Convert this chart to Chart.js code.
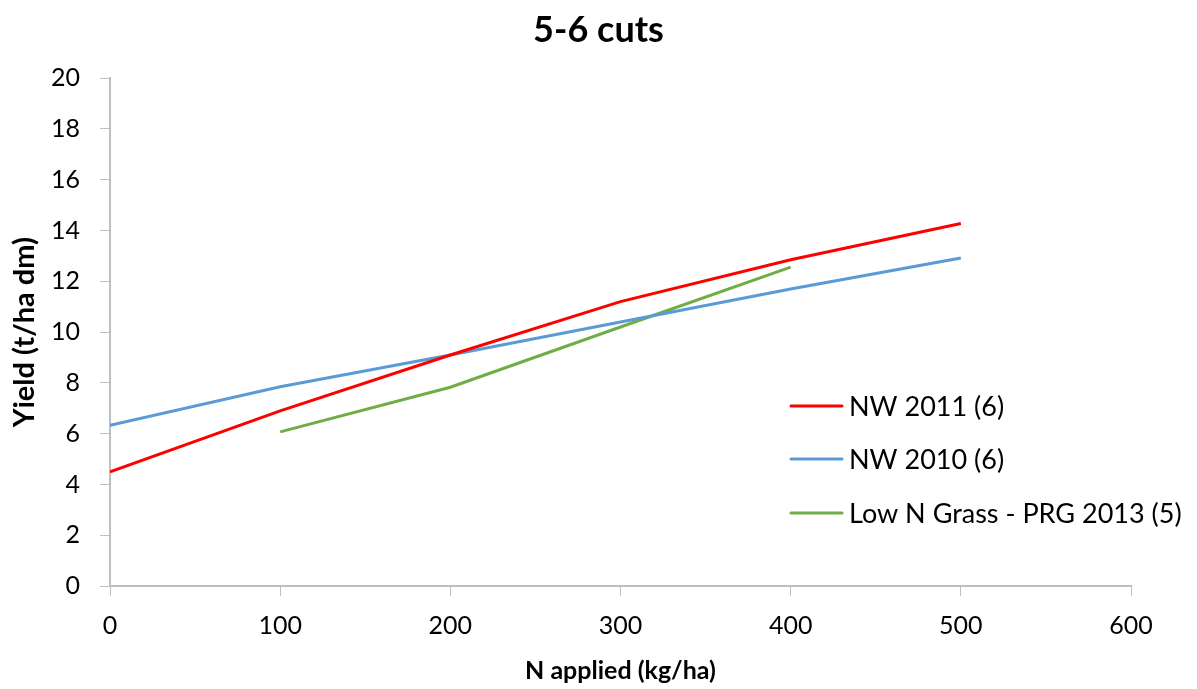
<!DOCTYPE html>
<html lang="en">
<head>
    <meta charset="utf-8" />
    <title>5-6 cuts</title>
    <script src="https://cdn.jsdelivr.net/npm/chart.js"></script>
    <style>
        html, body { margin: 0; padding: 0; background: #fff; }
        #wrap { width: 1197px; height: 689px; }
    </style>
</head>
<body>
    <div id="wrap"><canvas id="chart" width="1197" height="689"></canvas></div>

    <script>
        // values
        const nApplied = [0, 100, 200, 300, 400, 500];
        const nw2011 = [4.5, 6.9, 9.1, 11.2, 12.85, 14.28];
        const nw2010 = [6.33, 7.85, 9.1, 10.4, 11.7, 12.92];
        const lowNGrass = [null, 6.07, 7.83, 10.2, 12.56, null];

        const seriesNames = ['NW 2011 (6)', 'NW 2010 (6)', 'Low N Grass - PRG 2013 (5)'];
        const seriesColors = ['#ff0000', '#5b9bd5', '#70ad47'];

        const FONT = 'Lato, "Open Sans", "Liberation Sans", sans-serif';

        function toPoints(values) {
            return nApplied.map(function (x, i) { return { x: x, y: values[i] }; });
        }

        // legend drawn on top of the plot, like the original
        const overlayLegend = {
            id: 'overlayLegend',
            afterDraw: function (chart) {
                const ctx = chart.ctx;
                const rows = [406, 459, 513];
                ctx.save();
                ctx.font = '27px ' + FONT;
                ctx.textBaseline = 'middle';
                ctx.textAlign = 'left';
                chart.data.datasets.forEach(function (ds, i) {
                    ctx.strokeStyle = ds.borderColor;
                    ctx.lineWidth = 3;
                    ctx.lineCap = 'round';
                    ctx.beginPath();
                    ctx.moveTo(791, rows[i]);
                    ctx.lineTo(842, rows[i]);
                    ctx.stroke();
                    ctx.fillStyle = '#000';
                    ctx.fillText(ds.label, 849, rows[i] + 1);
                });
                ctx.restore();
            }
        };

        const datasets = [nw2011, nw2010, lowNGrass].map(function (vals, i) {
            return {
                label: seriesNames[i],
                data: toPoints(vals),
                borderColor: seriesColors[i],
                backgroundColor: seriesColors[i],
                borderWidth: 3,
                pointRadius: 0,
                tension: 0,
                spanGaps: false
            };
        });

        new Chart(document.getElementById('chart'), {
            type: 'line',
            data: { datasets: datasets },
            options: {
                responsive: false,
                animation: false,
                layout: { padding: 0 },
                plugins: {
                    legend: { display: false },
                    tooltip: { enabled: false },
                    title: {
                        display: true,
                        text: '5-6 cuts',
                        color: '#000',
                        font: { family: FONT, size: 36, weight: 'bold', lineHeight: 1.2 },
                        padding: { top: 9, bottom: 26 }
                    }
                },
                scales: {
                    x: {
                        type: 'linear',
                        min: 0,
                        max: 600,
                        ticks: {
                            stepSize: 100,
                            color: '#000',
                            padding: 15,
                            font: { family: FONT, size: 25 }
                        },
                        grid: {
                            drawOnChartArea: false,
                            drawTicks: true,
                            tickLength: 10,
                            color: '#bfbfbf'
                        },
                        border: { color: '#bfbfbf', width: 2 },
                        title: {
                            display: true,
                            text: 'N applied (kg/ha)',
                            color: '#000',
                            font: { family: FONT, size: 25, weight: 'bold' },
                            padding: { top: 0, bottom: 3 }
                        },
                        afterFit: function (scale) {
                            scale.height = 103;
                            scale.paddingRight = 66;
                        }
                    },
                    y: {
                        min: 0,
                        max: 20,
                        ticks: {
                            stepSize: 2,
                            color: '#000',
                            padding: 20,
                            font: { family: FONT, size: 25 }
                        },
                        grid: {
                            drawOnChartArea: false,
                            drawTicks: true,
                            tickLength: 10,
                            color: '#bfbfbf'
                        },
                        border: { color: '#bfbfbf', width: 2 },
                        title: {
                            display: true,
                            text: 'Yield (t/ha dm)',
                            color: '#000',
                            font: { family: FONT, size: 29, weight: 'bold' },
                            padding: { top: 7, bottom: 0 }
                        },
                        afterFit: function (scale) { scale.width = 110; }
                    }
                }
            },
            plugins: [overlayLegend]
        });
    </script>
</body>
</html>
